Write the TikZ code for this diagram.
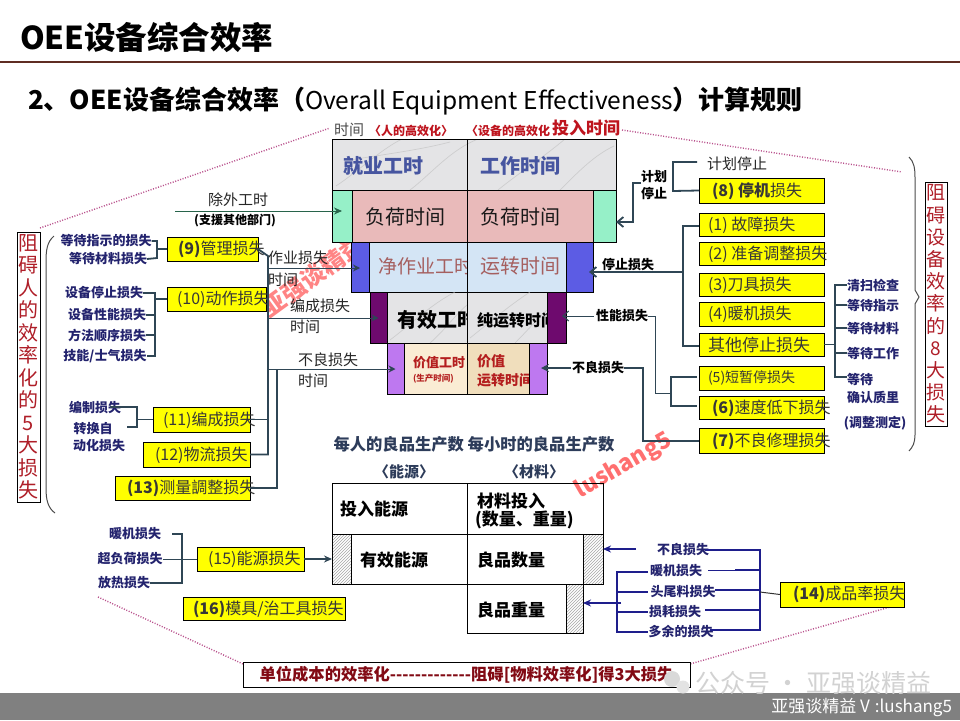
\documentclass[tikz,border=0pt]{standalone}
\usepackage{fontspec}
\setmainfont{Noto Sans CJK SC}
\usetikzlibrary{arrows.meta,patterns}
\newcommand\myfs[1]{\fontsize{#1}{#1}\selectfont}
\newcommand\mkbox[6]{\node[#6, minimum width=#4-#2, minimum height=#5-#3] (#1) at (#2,#3) {};}
\definecolor{titlec}{RGB}{95,45,35}
\definecolor{hdred}{RGB}{190,20,30}
\definecolor{vred}{RGB}{175,30,40}
\definecolor{navy}{RGB}{35,35,110}
\definecolor{navyl}{RGB}{30,30,140}
\definecolor{slate}{RGB}{47,70,85}
\definecolor{dgreen}{RGB}{40,100,75}
\definecolor{marble}{RGB}{228,228,230}
\definecolor{pinkc}{RGB}{233,186,186}
\definecolor{ltblue}{RGB}{212,229,245}
\definecolor{bluetab}{RGB}{92,92,228}
\definecolor{greentab}{RGB}{150,240,200}
\definecolor{dpurple}{RGB}{110,10,110}
\definecolor{lpurple}{RGB}{190,120,240}
\definecolor{beige}{RGB}{250,236,212}
\definecolor{beige2}{RGB}{240,222,188}
\definecolor{dotc}{RGB}{185,80,140}
\definecolor{bluetxt}{RGB}{70,85,160}
\definecolor{fadered}{RGB}{165,95,95}
\definecolor{valred}{RGB}{180,30,30}
\definecolor{yel}{RGB}{255,255,0}
\definecolor{ytext}{RGB}{55,55,55}
\definecolor{bannerred}{RGB}{130,10,20}
\definecolor{subc}{RGB}{45,60,90}
\definecolor{footc}{RGB}{128,128,128}
\tikzset{
  cell/.style={draw=black, line width=0.8, anchor=north west},
  ybox/.style={draw=black, line width=0.8, fill=yel, anchor=north west},
  ytxt/.style={anchor=west, font=\myfs{16}, text=ytext},
  navytxt/.style={font=\myfs{13}\bfseries, text=navy},
  conn/.style={draw=slate, line width=1.8},
  tconn/.style={draw=slate, line width=1},
  nline/.style={draw=navyl, line width=2.6},
  dotline/.style={draw=dotc, line width=1.4, dash pattern=on 1pt off 1.6pt},
  arr/.style={-{Stealth[length=7pt,width=7pt]}},
  lbl/.style={anchor=west, font=\myfs{15}, text=black!85},
  boldlbl/.style={font=\myfs{13}\bfseries, text=black},
  hatch/.style={cell, pattern=north east lines, pattern color=gray!70},
  streak/.style={draw=gray!50, line width=0.7, opacity=0.6},
}
\begin{document}
\begin{tikzpicture}[x=1pt,y=-1pt,every node/.style={inner sep=0pt,outer sep=0pt}]
\fill[white] (0,0) rectangle (960,720);
\useasboundingbox (0,0) rectangle (960,720);

% ---------- title ----------
\node[anchor=west,font=\myfs{31.5}\bfseries] (title) at (20,37) {OEE设备综合效率};
\coordinate (tl1) at (0,62); \coordinate (tl2) at (960,62);
\draw[draw=titlec,line width=1.5] (tl1) -- (tl2);
\node[anchor=west,font=\myfs{26}\bfseries] (sub) at (28,101) {2、OEE设备综合效率（{\mdseries\myfs{24.5}Overall Equipment Effectiveness}）计算规则};

% ---------- headers ----------
\node[font=\myfs{15}, text=black!70] (hT) at (349,130) {时间};
\node[font=\myfs{12}\bfseries, text=hdred] (hP) at (411,131) {〈人的高效化〉};
\node[font=\myfs{12}\bfseries, text=hdred] (hE) at (508,131) {〈设备的高效化};
\node[font=\myfs{17}\bfseries, text=hdred] (hI) at (586,128) {投入时间};

% ---------- dotted guide lines ----------
\coordinate (d1a) at (40,228); \coordinate (d1b) at (330,128);
\coordinate (d2a) at (622,130); \coordinate (d2b) at (902,172);
\coordinate (d3a) at (98,597); \coordinate (d3b) at (243,664);
\coordinate (d4a) at (904,603); \coordinate (d4b) at (690,664);
\draw[dotline] (d1a) -- (d1b);
\draw[dotline] (d2a) -- (d2b);
\draw[dotline] (d3a) -- (d3b);
\draw[dotline] (d4a) -- (d4b);

% ---------- watermarks ----------
\node[rotate=36, font=\myfs{24}\bfseries, text=red!80, opacity=0.6] (wm1) at (313,276) {亚强谈精益};
\node[rotate=30, font=\myfs{23}\bfseries, text=red!80, opacity=0.7] (wm2) at (624,466) {lushang5};

% ---------- central blocks ----------
% row 1
\mkbox{r1l}{332}{139}{467}{190}{cell, fill=marble}
\mkbox{r1r}{467}{139}{616}{190}{cell, fill=marble}
\begin{scope}
\clip (332,139) rectangle (616,190);
\draw[streak] (336,186) .. controls (360,170) and (380,150) .. (402,139);
\draw[streak] (410,190) .. controls (430,175) and (450,150) .. (478,139);
\draw[streak] (498,190) .. controls (520,172) and (540,160) .. (565,139);
\draw[streak] (560,190) .. controls (580,170) and (595,155) .. (614,146);
\draw[streak] (350,160) .. controls (380,155) and (420,150) .. (450,142);
\end{scope}
\draw[line width=0.8] (332,139) rectangle (616,190) (467,139) -- (467,190);
\node[font=\myfs{20}\bfseries, text=bluetxt] (r1lt) at (383,166) {就业工时};
\node[font=\myfs{20}\bfseries, text=bluetxt] (r1rt) at (520,166) {工作时间};
% row 2
\mkbox{gL}{332}{190}{352}{242}{cell, fill=greentab}
\mkbox{r2l}{352}{190}{467}{242}{cell, fill=pinkc}
\node[font=\myfs{20}, text=black!90] (r2lt) at (405,217) {负荷时间};
\mkbox{r2r}{467}{190}{593}{242}{cell, fill=pinkc}
\node[font=\myfs{20}, text=black!90] (r2rt) at (520,217) {负荷时间};
\mkbox{gR}{593}{190}{616}{242}{cell, fill=greentab}
% row 3
\mkbox{bL}{351}{242}{369}{292}{cell, fill=bluetab}
\mkbox{r3l}{369}{242}{467}{292}{cell, fill=ltblue}
\node[anchor=west, font=\myfs{19}, text=fadered] (r3lt) at (378,266) {净作业工时};
\mkbox{r3r}{467}{242}{566}{292}{cell, fill=ltblue}
\node[font=\myfs{20}, text=fadered] (r3rt) at (520,266) {运转时间};
\mkbox{bR}{566}{242}{593}{292}{cell, fill=bluetab}
% row 4
\mkbox{pL}{370}{292}{387}{343}{cell, fill=dpurple}
\mkbox{r4l}{387}{292}{467}{343}{cell, fill=marble}
\begin{scope}
\clip (387,292) rectangle (467,343);
\draw[streak] (390,340) .. controls (410,325) and (430,305) .. (455,292);
\draw[streak] (430,343) .. controls (445,330) and (455,315) .. (467,305);
\end{scope}
\node[anchor=west, font=\myfs{20}\bfseries, text=black] (r4lt) at (397,320) {有效工时};
\mkbox{r4r}{467}{292}{547}{343}{cell, fill=marble}
\begin{scope}
\clip (467,292) rectangle (547,343);
\draw[streak] (470,338) .. controls (490,322) and (510,305) .. (530,292);
\draw[streak] (515,343) .. controls (528,330) and (538,318) .. (547,310);
\end{scope}
\node[anchor=west, font=\myfs{16}\bfseries, text=black] (r4rt) at (477,320) {纯运转时间};
\mkbox{pR}{547}{292}{566}{343}{cell, fill=dpurple}
% row 5
\mkbox{lL}{387}{343}{404}{394}{cell, fill=lpurple}
\mkbox{r5l}{404}{343}{467}{394}{cell, fill=beige}
\node[anchor=west, font=\myfs{13}\bfseries, text=valred] (r5lt) at (413,363) {价值工时};
\node[anchor=west, font=\myfs{8.5}\bfseries, text=valred] (r5ls) at (413,379) {(生产时间)};
\mkbox{r5r}{467}{343}{529}{394}{cell, fill=beige2}
\node[anchor=west, font=\myfs{14}\bfseries, text=valred] (r5rt) at (477,361) {价值};
\node[anchor=west, font=\myfs{14}\bfseries, text=valred] (r5rs) at (477,380) {运转时间};
\mkbox{lR}{529}{343}{547}{394}{cell, fill=lpurple}

% ---------- left: excluded hours ----------
\node[font=\myfs{15}, text=black!85] (exT) at (238,200) {除外工时};
\node[font=\myfs{12}\bfseries] (exS) at (235,221) {(支援其他部门)};
\coordinate (exA) at (175,211);
\draw[draw=dgreen, line width=1, -{Stealth[length=8pt,width=7pt]}] (exA) -- (gL.center |- exA);

% ---------- left: loss labels by blocks ----------
\node[lbl] (la1) at (268,258) {作业损失};
\node[lbl] (la2) at (268,280) {时间};
\node[lbl] (lb1) at (290,306) {编成损失};
\node[lbl] (lb2) at (290,327) {时间};
\node[lbl] (lc1) at (298,360) {不良损失};
\node[lbl] (lc2) at (298,381) {时间};

% ---------- left yellow boxes ----------
\mkbox{b9}{167}{237}{258}{261}{ybox}
\node[ytxt] (b9t) at (178,249) {\textbf{(9)}管理损失};
\mkbox{b10}{167}{287}{266}{311}{ybox}
\node[ytxt] (b10t) at (177,299) {(10)动作损失};
\mkbox{b11}{153}{407}{250}{432}{ybox}
\node[ytxt] (b11t) at (163,420) {(11)编成损失};
\mkbox{b12}{143}{442}{250}{467}{ybox}
\node[ytxt] (b12t) at (155,455) {(12)物流损失};
\mkbox{b13}{115}{476}{250}{500}{ybox}
\node[ytxt] (b13t) at (127,488) {\textbf{(13)}测量調整损失};

% connectors from left boxes to the blocks
\coordinate (v1t) at (268,256);
\coordinate (v1b) at (268,454.5);
\coordinate (v2t) at (277,369);
\coordinate (v2b) at (277,488);
\draw[conn] (b9.east) -- (v1t) -- (v1b) -- (b12.east);
\draw[conn] (b10.east) -- (v1t |- b10.east);
\draw[conn] (b11.east) -- (v1t |- b11.east);
\draw[conn] (b13.east) -- (v2b) -- (v2t);
\coordinate (ca) at (268,268);
\coordinate (cb) at (268,318);
\coordinate (cc) at (268,369);
\draw[tconn, arr] (ca) -- (bL.center |- ca);
\draw[tconn, arr] (cb) -- (pL.center |- cb);
\draw[tconn, arr] (cc) -- (lL.center |- cc);

% ---------- left lists ----------
\node[navytxt] (t9a) at (106,241) {等待指示的损失};
\node[navytxt] (t9b) at (108,259) {等待材料损失};
\draw[conn] (t9a.east) -- (157,241) -- (157,258) -- (t9b.east);
\draw[conn] (157,249) -- (b9.west);
\node[navytxt] (t10a) at (104,293) {设备停止损失};
\node[navytxt] (t10b) at (107,315) {设备性能损失};
\node[navytxt] (t10c) at (107,335) {方法顺序损失};
\node[navytxt] (t10d) at (105,356) {技能/士气损失};
\coordinate (v10t) at (155,293); \coordinate (v10b) at (155,356);
\draw[conn] (t10a.east) -- (v10t) -- (v10b) -- (t10d.east);
\draw[conn] (t10b.east) -- (v10t |- t10b.east);
\draw[conn] (t10c.east) -- (v10t |- t10c.east);
\draw[conn] (155,299) -- (b10.west);
\node[navytxt] (t11a) at (95,408) {编制损失};
\node[navytxt] (t11b) at (93,429) {转换自};
\node[navytxt] (t11c) at (99,446) {动化损失};
\draw[conn] (110,407) -- (137,407) -- (137,427) -- (127,427);
\draw[tconn] (137,419.5) -- (b11.west);

% left red vertical label
\mkbox{lbox}{17}{232}{40}{502}{draw=black, line width=1, anchor=north west}
\node[font=\fontsize{20}{22.5}\selectfont, text=vred, align=center] (lboxt) at (lbox.center) {阻\\碍\\人\\的\\效\\率\\化\\的\\5\\大\\损\\失};
\draw[draw=black!70, line width=1] (54,236) .. controls (47,242) and (46,250) .. (46,262) -- (46,488) .. controls (46,500) and (48,508) .. (55,513);

% ---------- right side ----------
\node[font=\myfs{15}, text=black!85] (plT) at (737,164) {计划停止};
\mkbox{b8}{699}{178}{824}{203}{ybox}
\node[ytxt] (b8t) at (712,191) {\textbf{(8) 停机}损失};
\draw[conn] (697,162) -- (673,162) -- (673,191) -- (b8.west);
\node[boldlbl] (pl1) at (654,177) {计划};
\node[boldlbl] (pl2) at (654,193) {停止};
\coordinate (plc) at (633,183);
\coordinate (pld) at (633,222);
\draw[conn, -{Straight Barb[length=6pt,width=10pt]}] (641,183) -- (plc) -- (pld) -- (gR.east |- pld);

\mkbox{b1}{699}{213}{824}{236}{ybox}
\node[ytxt] (b1t) at (708,225) {(1) 故障损失};
\mkbox{b2}{699}{242}{824}{265}{ybox}
\node[ytxt] (b2t) at (708,254) {(2) 准备调整损失};
\mkbox{b3}{699}{273}{824}{296}{ybox}
\node[ytxt] (b3t) at (708,285) {(3)刀具损失};
\mkbox{b4}{699}{302}{824}{326}{ybox}
\node[ytxt] (b4t) at (708,314) {(4)暖机损失};
\mkbox{bO}{699}{333}{824}{356}{ybox}
\node[ytxt, font=\myfs{17}] (bOt) at (708,345) {其他停止损失};
\mkbox{b5}{699}{366}{824}{390}{ybox}
\node[ytxt, font=\myfs{14}] (b5t) at (708,378) {(5)短暂停损失};
\mkbox{b6}{699}{396}{824}{419}{ybox}
\node[ytxt] (b6t) at (712,408) {\textbf{(6)}速度低下损失};
\mkbox{b7}{699}{428}{824}{453}{ybox}
\node[ytxt] (b7t) at (712,441) {\textbf{(7)}不良修理损失};

% stop loss
\node[boldlbl] (sl) at (628,265) {停止损失};
\coordinate (st1) at (683,226); \coordinate (st2) at (683,346);
\draw[conn] (b1.west |- st1) -- (st1) -- (st2) -- (bO.west |- st2);
\coordinate (stl) at (683,272);
\draw[conn, -{Straight Barb[length=6pt,width=10pt]}] (stl) -- (589,272);
% performance loss
\node[boldlbl] (pf) at (622,316) {性能损失};
\coordinate (pfa) at (594,316);
\draw[tconn, -{Straight Barb[length=6pt,width=10pt]}] (pfa) -- (562,316);
\draw[tconn] (pf.east) -- (655,316) -- (655,393) -- (671,393);
\draw[conn] (697,377) -- (671,377) -- (671,406) -- (697,406);
% defect loss
\node[boldlbl] (df) at (598,368) {不良损失};
\coordinate (dfa) at (571,368);
\draw[conn, -{Stealth[length=8pt,width=8pt]}] (dfa) -- (541,368);
\coordinate (dfc) at (643,368); \coordinate (dfd) at (643,441);
\draw[conn] (df.east) -- (dfc) -- (dfd) -- (b7.west |- dfd);

% right list
\node[navytxt] (r1) at (873,285) {清扫检查};
\node[navytxt] (r2) at (873,305) {等待指示};
\node[navytxt] (r3) at (873,328) {等待材料};
\node[navytxt] (r4) at (873,353) {等待工作};
\node[navytxt] (r5) at (860,379) {等待};
\node[navytxt] (r6) at (873,397) {确认质里};
\node[navytxt] (r7) at (875,423) {(调整测定)};
\coordinate (rv1) at (835,285); \coordinate (rv2) at (835,377);
\draw[conn] (r1.west) -- (rv1) -- (rv2) -- (r5.west |- rv2);
\draw[conn] (rv1 |- r2) -- (r2.west);
\draw[conn] (rv1 |- r3) -- (r3.west);
\draw[conn] (rv1 |- r4) -- (r4.west);
\draw[conn] (bO.east) -- (rv1 |- bO.east);

% right red vertical label
\mkbox{rbox}{925}{182}{947}{426}{draw=black, line width=1, anchor=north west}
\node[font=\fontsize{19}{22.2}\selectfont, text=vred, align=center] (rboxt) at (rbox.center) {阻\\碍\\设\\备\\效\\率\\的\\8\\大\\损\\失};
\draw[draw=black!70, line width=1] (909,157) .. controls (914,162) and (915,168) .. (915,178) -- (915,290) -- (919,297) -- (915,304) -- (915,435) .. controls (915,442) and (913,447) .. (909,451);

% ---------- bottom table ----------
\node[font=\myfs{16.3}\bfseries, text=subc] (prod) at (474,444) {每人的良品生产数 每小时的良品生产数};
\node[font=\myfs{15}\bfseries, text=subc] (en) at (404,472) {〈能源〉};
\node[font=\myfs{15}\bfseries, text=subc] (ma) at (534,472) {〈材料〉};
\mkbox{t1l}{332}{483}{467}{534}{cell}
\node[font=\myfs{17}\bfseries] (t1lt) at (374,509) {投入能源};
\mkbox{t1r}{467}{483}{603}{534}{cell}
\node[anchor=west, font=\myfs{17}\bfseries] (t1rt) at (477,501) {材料投入};
\node[anchor=west, font=\myfs{17}\bfseries] (t1rs) at (475,520) {(数量、重量)};
\mkbox{h1}{332}{534}{351}{584}{hatch}
\mkbox{t2l}{351}{534}{467}{584}{cell}
\node[font=\myfs{17}\bfseries] (t2lt) at (394,560) {有效能源};
\mkbox{t2r}{467}{534}{583}{584}{cell}
\node[anchor=west, font=\myfs{17}\bfseries] (t2rt) at (477,560) {良品数量};
\mkbox{h2}{583}{534}{603}{584}{hatch}
\mkbox{t3}{467}{584}{566}{633}{cell}
\node[anchor=west, font=\myfs{17}\bfseries] (t3t) at (477,610) {良品重量};
\mkbox{h3}{566}{584}{583}{633}{hatch}

% (15) (16)
\node[navytxt] (e1) at (135,534) {暖机损失};
\node[navytxt] (e2) at (130,559) {超负荷损失};
\node[navytxt] (e3) at (124,583) {放热损失};
\mkbox{b15}{197}{547}{304}{571}{ybox}
\node[ytxt] (b15t) at (208,559) {(15)能源损失};
\draw[conn] (172,534) -- (182,534) -- (182,583) -- (e3.east);
\draw[tconn] (e2.east) -- (b15.west);
\draw[conn, -{Stealth[length=8pt,width=7pt]}] (b15.east) -- (h1.west);
\mkbox{b16}{183}{597}{345}{620}{ybox}
\node[ytxt] (b16t) at (193,609) {\textbf{(16)}模具/治工具损失};

% (14)
\node[navytxt] (m1) at (683,550) {不良损失};
\node[navytxt] (m2) at (676,571) {暖机损失};
\node[navytxt] (m3) at (683,592) {头尾料损失};
\node[navytxt] (m4) at (675,612) {损耗损失};
\node[navytxt] (m5) at (681,632) {多余的损失};
\coordinate (mr1) at (760,550); \coordinate (mr2) at (760,630);
\draw[nline] (705,550) -- (mr1) -- (mr2) -- (710,630);
\draw[nline] (735,570) -- (760,570);
\draw[draw=navyl, line width=1] (708,570) -- (735,570);
\draw[nline] (715,590) -- (760,590);
\draw[nline] (705,610) -- (760,610);
\coordinate (ml1) at (617,572); \coordinate (ml2) at (617,632);
\draw[nline] (648,572) -- (ml1) -- (ml2) -- (648,632);
\draw[nline] (617,592) -- (648,592);
\draw[nline] (617,612) -- (648,612);
\mkbox{b14}{780}{582}{904}{607}{ybox}
\node[ytxt] (b14t) at (793,594) {\textbf{(14)}成品率损失};
\draw[draw=black!80, line width=1] (760,592) -- (b14.west);
\coordinate (ma1) at (636,549);
\coordinate (ma2) at (621,603);
\draw[draw=navyl, line width=1.8, -{Stealth[length=8pt,width=7pt]}] (ma1) -- (h2.east |- ma1);
\draw[draw=navyl, line width=1.8, -{Stealth[length=8pt,width=7pt]}] (ma2) -- (h3.east |- ma2);

% ---------- bottom banner ----------
\mkbox{ban}{243}{662}{690}{687}{draw=black, line width=1, anchor=north west}
\node[font=\myfs{16.3}\bfseries, text=bannerred] (bant) at (ban.center) {单位成本的效率化-{}-{}-{}-{}-{}-{}-{}-{}-{}-{}-{}-{}-阻碍[物料效率化]得3大损失};

% ---------- footer ----------
\fill[footc] (0,693) rectangle (960,720);
\fill[gray!30] (672,679) circle (8);
\fill[gray!22] (683,687) circle (6.5);
\node[anchor=west, font=\myfs{25}, text=gray!35] (wm3) at (695,683) {公众号 · 亚强谈精益};
\node[anchor=east, font=\myfs{17}, text=white] (foot) at (952,707) {亚强谈精益 V\hspace{5pt}:lushang5};
\end{tikzpicture}
\end{document}
